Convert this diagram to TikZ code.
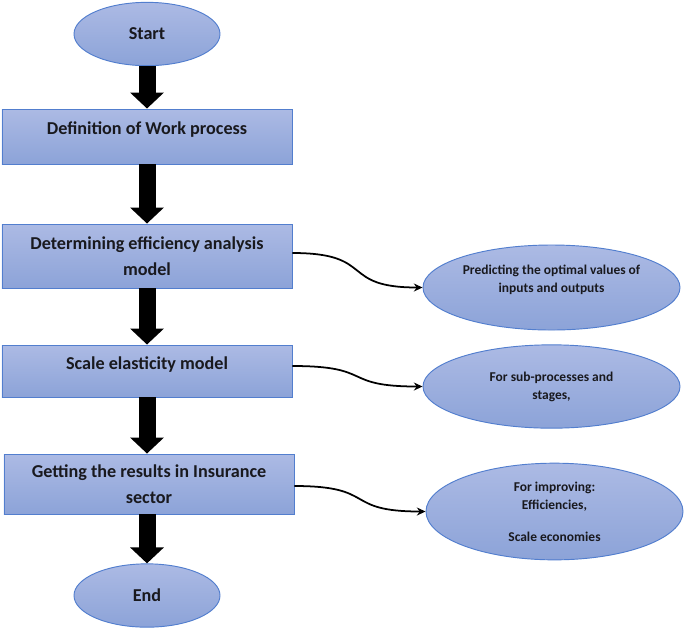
\documentclass[tikz,border=0pt]{standalone}
\usepackage{fontspec}
\setmainfont{Carlito}
\usetikzlibrary{arrows.meta, shapes.geometric}

\definecolor{edgeblue}{RGB}{82,126,206}
\definecolor{filltop}{RGB}{172,186,228}
\definecolor{fillbot}{RGB}{140,163,216}
\definecolor{inkdark}{RGB}{25,25,30}

\begin{document}
\begin{tikzpicture}[
  x=0.03cm,y=-0.03cm,
  step box/.style={draw=edgeblue, line width=0.8pt, top color=filltop, bottom color=fillbot,
    minimum width=8.7cm, align=center, font=\fontsize{15.5}{22}\selectfont\bfseries, text=inkdark},
  term/.style={ellipse, draw=edgeblue, line width=0.8pt, top color=filltop, bottom color=fillbot,
    minimum width=4.38cm, minimum height=1.9cm, inner sep=1pt, font=\fontsize{15.5}{22}\selectfont\bfseries, text=inkdark},
  note/.style={ellipse, draw=edgeblue, line width=0.8pt, top color=filltop, bottom color=fillbot,
    minimum width=7.71cm, inner sep=1pt, align=center, font=\fontsize{11.5}{15.3}\selectfont\bfseries, text=inkdark},
  flow/.style={line width=0.51cm, -{Triangle[width=0.99cm, length=0.48cm]}},
  link/.style={line width=1.5pt, -{Stealth[length=2.6mm, width=2.4mm]}, looseness=1.6}
]
\useasboundingbox (0,0) rectangle (685,631);

% main column
\node[term] (start) at (147,34) {Start};
\node[step box, minimum height=1.65cm] (work) at (147,136.5) {Definition of Work process\\[-8pt]};
\node[step box, minimum height=1.92cm] (effic) at (147,256) {Determining efficiency analysis\\model};
\node[step box, minimum height=1.56cm] (scale) at (147,371) {Scale elasticity model\\[-8pt]};
\node[step box, minimum height=1.8cm] (result) at (149,484) {Getting the results in Insurance\\sector};
\node[term] (end) at (147,595.5) {End};

\draw[flow] (start.south) -- (work.north);
\draw[flow] (work.south) -- (effic.north);
\draw[flow] (effic.south) -- (scale.north);
\draw[flow] (scale.south) -- (result.north -| scale.south);
\draw[flow] (result.south -| end.north) -- (end.north);

% side notes
\node[note, minimum height=2.55cm] (optim) at (551.5,287.5) {Predicting the optimal values of\\inputs and outputs\\[-1pt]};
\node[note, minimum height=2.5cm] (stages) at (551.5,386.5) {\mbox{}\\[-6.5pt]For sub-processes and\\stages,};
\node[note, minimum height=2.9cm] (improve) at (554.5,511.5) {For improving:\\Efficiencies,\\[12pt]Scale economies};

\draw[link] (effic.east |- 0,253) to[out=0, in=180] (optim.west);
\draw[link] (scale.east |- 0,366) to[out=0, in=180] (stages.west);
\draw[link] (result.east |- 0,486) to[out=0, in=180] (improve.west);

\end{tikzpicture}
\end{document}
